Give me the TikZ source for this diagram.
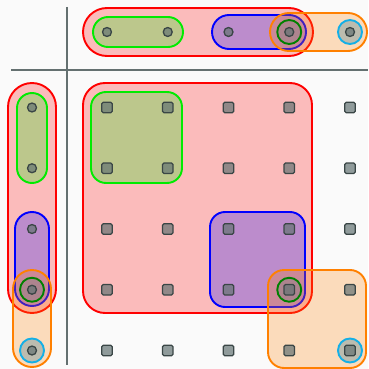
\documentclass[tikz,border=0pt]{standalone}
\usepackage{tikz}
\usepackage{xcolor}
\definecolor{setgreen}{RGB}{0,235,0}
\definecolor{setorange}{RGB}{255,128,0}
\definecolor{ptline}{RGB}{58,70,70}
\definecolor{ptfill}{RGB}{100,115,115}
\definecolor{axisgray}{RGB}{100,112,112}
\definecolor{hlcyan}{RGB}{20,175,230}

\begin{document}
\begin{tikzpicture}[x=1pt, y=-1pt,
    region/.style={line width=1.9pt, fill opacity=0.25},
    sq/.style={rectangle, rounded corners=1.5pt, minimum size=10.5pt, inner sep=0pt,
      draw=ptline, line width=1.3pt, fill=ptfill, fill opacity=0.7},
    dot/.style={circle, minimum size=9pt, inner sep=0pt,
      draw=ptline, line width=1.3pt, fill=ptfill, fill opacity=0.7},
    hl/.style={circle, minimum size=24pt, inner sep=0pt, line width=1.9pt}]
    \fill[white!98!black] (0,0) rectangle (368,369);
    \useasboundingbox (0,0) rectangle (368,369);
    % axes
    \draw[axisgray, line width=1.3pt] (67,7) -- (67,365);
    \draw[axisgray, line width=1.3pt] (11,70) -- (368,70);
    % top row
    \draw[region, draw=red, fill=red, rounded corners=24pt] (83,8) rectangle (313,56);
    \draw[region, draw=setgreen, fill=setgreen, rounded corners=15pt] (93,17) rectangle (183,47);
    \draw[region, draw=blue, fill=blue, rounded corners=17pt] (212,15) rectangle (306,49);
    \draw[region, draw=setorange, fill=setorange, rounded corners=19pt] (270,13) rectangle (367,51);
    % left column
    \draw[region, draw=red, fill=red, rounded corners=24pt] (8,83) rectangle (56,313);
    \draw[region, draw=setgreen, fill=setgreen, rounded corners=15pt] (17,93) rectangle (47,183);
    \draw[region, draw=blue, fill=blue, rounded corners=17pt] (15,212) rectangle (49,306);
    \draw[region, draw=setorange, fill=setorange, rounded corners=19pt] (13,270) rectangle (51,367);
    % grid
    \draw[region, draw=red, fill=red, rounded corners=22pt] (83,83) rectangle (312,313);
    \draw[region, draw=setgreen, fill=setgreen, rounded corners=15pt] (91,92) rectangle (182,183);
    \draw[region, draw=blue, fill=blue, rounded corners=15pt] (210,212) rectangle (305,307);
    \draw[region, draw=setorange, fill=setorange, rounded corners=16pt] (268,270) rectangle (366,368);
    % highlighted points
    \node[hl, draw=green!50!black, fill=gray, fill opacity=0.4] (hl-top) at (289.25,32) {};
    \node[hl, draw=green!50!black, fill=gray, fill opacity=0.4] (hl-left) at (32,289.75) {};
    \node[hl, draw=green!50!black, fill=gray, fill opacity=0.4] (hl-grid) at (289.25,289.75) {};
    \node[hl, draw=hlcyan, fill=gray!70!hlcyan, fill opacity=0.4] (hc-top) at (350,32) {};
    \node[hl, draw=hlcyan, fill=gray!70!hlcyan, fill opacity=0.4] (hc-left) at (32,350.5) {};
    \node[hl, draw=hlcyan, fill=gray!70!hlcyan, fill opacity=0.4] (hc-grid) at (350,350.5) {};
    % points
    \foreach \i in {1,...,5} {
        \node[dot] (t-\i) at ({107+60.75*(\i-1)},32) {};
        \node[dot] (l-\i) at (32,{107.5+60.75*(\i-1)}) {};
        \foreach \j in {1,...,5}
            \node[sq] (g-\i-\j) at ({107+60.75*(\i-1)},{107.5+60.75*(\j-1)}) {};
    }
\end{tikzpicture}
\end{document}
